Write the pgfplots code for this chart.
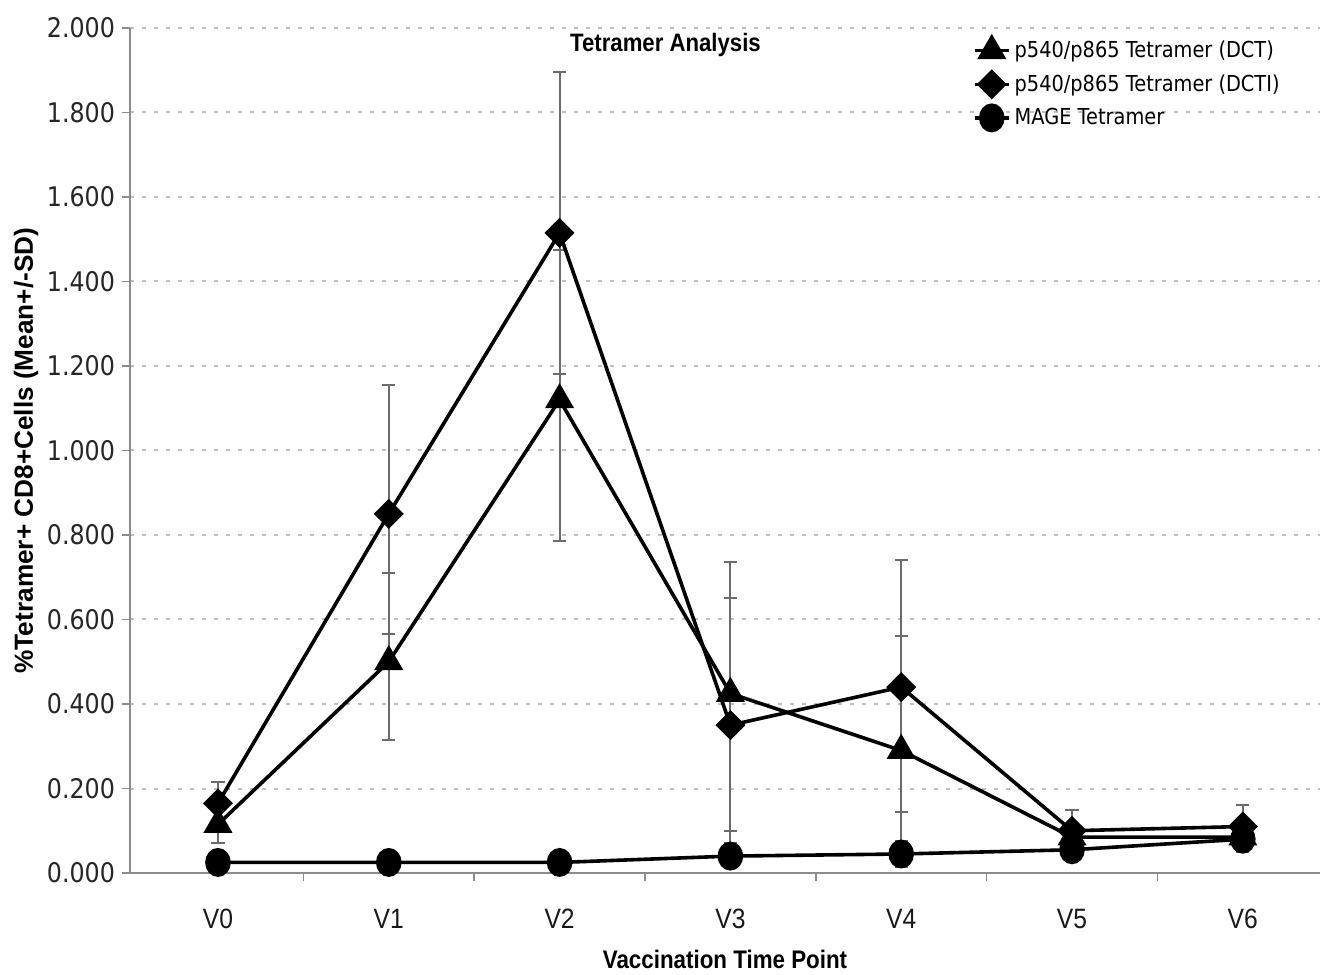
\documentclass[border=0pt]{standalone}
\usepackage{fontspec}
\setmainfont{Liberation Sans}
\usepackage{pgfplots}
\pgfplotsset{compat=1.18}
\newfontfamily\condsans[FakeStretch=0.88]{Liberation Sans}
\newfontfamily\numfont[FakeStretch=0.88]{DejaVu Sans}
\definecolor{errgray}{gray}{0.42}
\definecolor{axgray}{gray}{0.55}
\begin{document}
\begin{tikzpicture}
\path[use as bounding box] (-65pt,-50.5pt) rectangle (595pt,436.5pt);
\begin{axis}[
  at={(0pt,0pt)}, anchor=south west,
  scale only axis, width=595pt, height=422.5pt,
  xmin=-0.515, xmax=6.452, ymin=0, ymax=2,
  clip=false,
  axis x line*=bottom, axis y line*=left,
  axis line style={-, draw=axgray, line width=1.3pt},
  xtick={0,1,2,3,4,5,6},
  xticklabels={V0,V1,V2,V3,V4,V5,V6},
  xtick style={draw=none},
  extra x ticks={0.5,1.5,2.5,3.5,4.5,5.5},
  extra x tick labels={},
  extra x tick style={xtick style={draw=axgray, line width=0.8pt}},
  ytick={0,0.2,0.4,0.6,0.8,1.0,1.2,1.4,1.6,1.8,2.0},
  ytick style={draw=axgray, line width=0.8pt},
  tick align=outside, major tick length=4pt,
  /pgf/number format/assume math mode=true,
  yticklabel style={/pgf/number format/fixed, /pgf/number format/fixed zerofill, /pgf/number format/precision=3,
    font=\numfont\fontsize{13.5}{16}\selectfont, text=black!85},
  xticklabel style={font=\condsans\fontsize{14}{16}\selectfont, anchor=base, yshift=-23.5pt, text=black!90},
  ymajorgrids,
  major grid style={gray!50, dash pattern=on 2pt off 4pt, line width=1pt},
  ylabel={\%Tetramer+ CD8+Cells (Mean+/-SD)},
  every axis y label/.style={at={(axis description cs:-0.0874,0.5)}, rotate=90, anchor=center,
    font=\bfseries\fontsize{13.1}{16}\selectfont},
  xlabel={Vaccination Time Point},
  every axis x label/.style={at={(axis description cs:0.5,-0.1025)}, anchor=center,
    font=\condsans\bfseries\fontsize{12.7}{15}\selectfont},
  legend style={draw=none, fill=none, at={(rel axis cs:0.708,0.99)}, anchor=north west,
    font=\numfont\fontsize{11}{13}\selectfont, row sep=3pt, inner sep=0pt, cells={anchor=west}},
  legend cell align=left,
]
\addplot[black, line width=1.8pt, mark=triangle*, mark size=6.6pt, mark options={solid, fill=black},
  error bars/.cd, y dir=both, y explicit,
  error bar style={errgray, line width=1pt},
  error mark options={rotate=90, mark size=3.3pt, line width=1pt, errgray}]
coordinates {
  (0,0.115) += (0,0.045) -= (0,0.045)
  (1,0.50)  += (0,0.21)  -= (0,0.185)
  (2,1.12)  += (0,0.355) -= (0,0.335)
  (3,0.425) += (0,0.31)  -= (0,0.325)
  (4,0.29)  += (0,0.27)  -= (0,0.27)
  (5,0.085) += (0,0.03)  -= (0,0.03)
  (6,0.085) += (0,0.03)  -= (0,0.035)
};
\addlegendentry{p540/p865 Tetramer (DCT)}
\addplot[black, line width=1.8pt, mark=square*, mark size=4.4pt, mark options={solid, fill=black, rotate=45},
  error bars/.cd, y dir=both, y explicit,
  error bar style={errgray, line width=1pt},
  error mark options={rotate=90, mark size=3.3pt, line width=1pt, errgray}]
coordinates {
  (0,0.165) += (0,0.05)  -= (0,0.05)
  (1,0.85)  += (0,0.305) -= (0,0.285)
  (2,1.515) += (0,0.38)  -= (0,0.335)
  (3,0.35)  += (0,0.30)  -= (0,0.28)
  (4,0.44)  += (0,0.30)  -= (0,0.295)
  (5,0.10)  += (0,0.05)  -= (0,0.05)
  (6,0.11)  += (0,0.05)  -= (0,0.05)
};
\addlegendentry{p540/p865 Tetramer (DCTI)}
\addplot[black, line width=1.8pt, mark=*, mark size=5.5pt, mark options={solid, fill=black, yscale=1.15},
  error bars/.cd, y dir=both, y explicit,
  error bar style={errgray, line width=1pt},
  error mark options={rotate=90, mark size=3.3pt, line width=1pt, errgray}]
coordinates {
  (0,0.025) +- (0,0.015)
  (1,0.025) +- (0,0.01)
  (2,0.025) +- (0,0.01)
  (3,0.04)  +- (0,0.02)
  (4,0.045) +- (0,0.03)
  (5,0.055) +- (0,0.01)
  (6,0.08)  +- (0,0.02)
};
\addlegendentry{MAGE Tetramer}
\node[font=\condsans\bfseries\fontsize{12.6}{15}\selectfont] at (rel axis cs:0.45,0.98) {Tetramer Analysis};
\end{axis}
\end{tikzpicture}
\end{document}
